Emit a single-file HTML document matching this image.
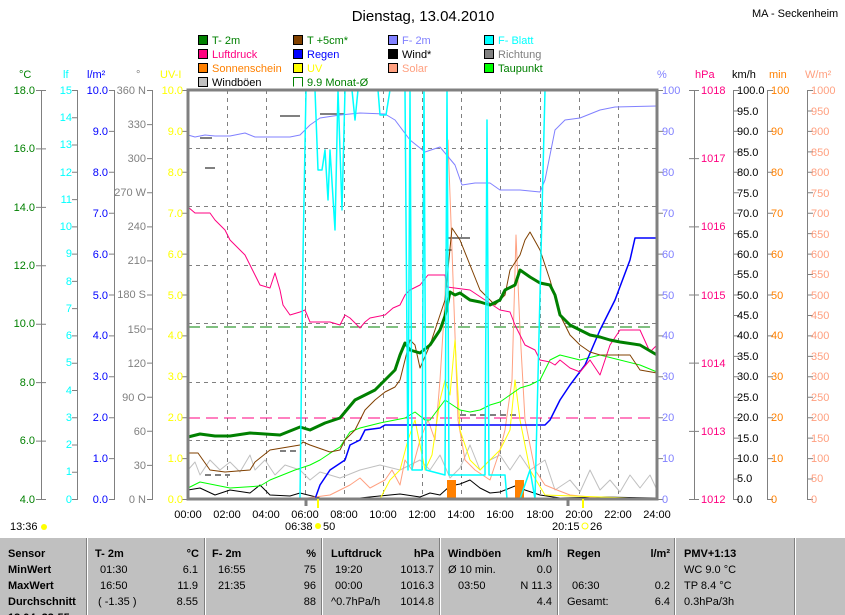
<!DOCTYPE html>
<html><head><meta charset="utf-8"><style>
html,body{margin:0;padding:0;background:#fff;width:845px;height:615px;overflow:hidden}
svg{display:block;font-family:"Liberation Sans",sans-serif}
</style></head><body>
<svg width="845" height="615" viewBox="0 0 845 615" xmlns="http://www.w3.org/2000/svg">
<rect width="845" height="615" fill="#fff"/>
<text x="423" y="21" font-size="15" text-anchor="middle">Dienstag, 13.04.2010</text>
<text x="752" y="17" font-size="11">MA - Seckenheim</text>
<!-- legend -->
<g font-size="11">
<rect x="198.5" y="35.5" width="9" height="9" fill="#008000" stroke="#000"/><text x="212" y="44" fill="#008000">T- 2m</text>
<rect x="198.5" y="49.5" width="9" height="9" fill="#ff0080" stroke="#000"/><text x="212" y="58" fill="#ff0080">Luftdruck</text>
<rect x="198.5" y="63.5" width="9" height="9" fill="#ff8000" stroke="#000"/><text x="212" y="72" fill="#ff8000">Sonnenschein</text>
<rect x="198.5" y="77.5" width="9" height="9" fill="#c0c0c0" stroke="#000"/><text x="212" y="86">Windböen</text>
<rect x="293.5" y="35.5" width="9" height="9" fill="#804000" stroke="#000"/><text x="307" y="44" fill="#008000">T +5cm*</text>
<rect x="293.5" y="49.5" width="9" height="9" fill="#0000ff" stroke="#000"/><text x="307" y="58" fill="#0000ff">Regen</text>
<rect x="293.5" y="63.5" width="9" height="9" fill="#ffff00" stroke="#000"/><text x="307" y="72" fill="#ffff00">UV</text>
<path d="M302.5 86.5 V77.5 H293.5 V86.5" fill="none" stroke="#008000"/><text x="307" y="86" fill="#008000">9.9 Monat-Ø</text>
<rect x="388.5" y="35.5" width="9" height="9" fill="#8080ff" stroke="#000"/><text x="402" y="44" fill="#8080ff">F- 2m</text>
<rect x="388.5" y="49.5" width="9" height="9" fill="#000" stroke="#000"/><text x="402" y="58">Wind*</text>
<rect x="388.5" y="63.5" width="9" height="9" fill="#ffa080" stroke="#000"/><text x="402" y="72" fill="#ffa080">Solar</text>
<rect x="484.5" y="35.5" width="9" height="9" fill="#00ffff" stroke="#000"/><text x="498" y="44" fill="#00ffff">F- Blatt</text>
<rect x="484.5" y="49.5" width="9" height="9" fill="#808080" stroke="#000"/><text x="498" y="58" fill="#808080">Richtung</text>
<rect x="484.5" y="63.5" width="9" height="9" fill="#00ff00" stroke="#000"/><text x="498" y="72" fill="#008000">Taupunkt</text>
</g>
<!-- unit labels -->
<g font-size="11">
<text x="19" y="78" fill="#008000">°C</text><text x="63" y="78" fill="#00ffff">lf</text>
<text x="87" y="78" fill="#0000ff">l/m²</text><text x="136" y="78" fill="#808080">°</text>
<text x="160" y="78" fill="#ffff00">UV-I</text>
<text x="657" y="78" fill="#8080ff">%</text><text x="695" y="78" fill="#ff0080">hPa</text>
<text x="732" y="78">km/h</text><text x="769" y="78" fill="#ff8000">min</text>
<text x="805" y="78" fill="#ffa080">W/m²</text>
</g>
<!-- axes -->
<g stroke="#808080" fill="none">
<path d="M41.5 90V499M77.5 90V499M114.5 90V499M152.5 90V499M694.5 90V499M733.5 90V499M767.5 90V499M807.5 90V499"/>
<path d="M41 90V501" stroke-width="10" stroke-dasharray="1,57.43"/>
<path d="M75 90V501" stroke-width="6" stroke-dasharray="1,26.27"/>
<path d="M112 90V501" stroke-width="6" stroke-dasharray="1,39.9"/>
<path d="M150 90V501" stroke-width="6" stroke-dasharray="1,33.08"/>
<path d="M185 90V501" stroke-width="6" stroke-dasharray="1,39.9"/>
<path d="M660 90V501" stroke-width="6" stroke-dasharray="1,39.9"/>
<path d="M694 90V501" stroke-width="10" stroke-dasharray="1,67.17"/>
<path d="M736 90V501" stroke-width="6" stroke-dasharray="1,19.45"/>
<path d="M770 90V501" stroke-width="6" stroke-dasharray="1,39.9"/>
<path d="M810 90V501" stroke-width="6" stroke-dasharray="1,19.45"/>
</g>
<g font-size="11" text-anchor="end">
<g fill="#008000"><text x="35" y="94">18.0</text><text x="35" y="152">16.0</text><text x="35" y="211">14.0</text><text x="35" y="269">12.0</text><text x="35" y="327">10.0</text><text x="35" y="386">8.0</text><text x="35" y="444">6.0</text><text x="35" y="503">4.0</text></g>
<g fill="#00ffff"><text x="72" y="94">15</text><text x="72" y="121">14</text><text x="72" y="148">13</text><text x="72" y="176">12</text><text x="72" y="203">11</text><text x="72" y="230">10</text><text x="72" y="257">9</text><text x="72" y="285">8</text><text x="72" y="312">7</text><text x="72" y="339">6</text><text x="72" y="366">5</text><text x="72" y="394">4</text><text x="72" y="421">3</text><text x="72" y="448">2</text><text x="72" y="475">1</text><text x="72" y="503">0</text></g>
<g fill="#0000ff"><text x="108" y="94">10.0</text><text x="108" y="135">9.0</text><text x="108" y="176">8.0</text><text x="108" y="217">7.0</text><text x="108" y="258">6.0</text><text x="108" y="299">5.0</text><text x="108" y="339">4.0</text><text x="108" y="380">3.0</text><text x="108" y="421">2.0</text><text x="108" y="462">1.0</text><text x="108" y="503">0.0</text></g>
<g fill="#808080"><text x="146" y="94">360 N</text><text x="146" y="128">330</text><text x="146" y="162">300</text><text x="146" y="196">270 W</text><text x="146" y="230">240</text><text x="146" y="264">210</text><text x="146" y="298">180 S</text><text x="146" y="333">150</text><text x="146" y="367">120</text><text x="146" y="401">90 O</text><text x="146" y="435">60</text><text x="146" y="469">30</text><text x="146" y="503">0 N</text></g>
<g fill="#ffff00"><text x="183" y="94">10.0</text><text x="183" y="135">9.0</text><text x="183" y="176">8.0</text><text x="183" y="217">7.0</text><text x="183" y="258">6.0</text><text x="183" y="299">5.0</text><text x="183" y="339">4.0</text><text x="183" y="380">3.0</text><text x="183" y="421">2.0</text><text x="183" y="462">1.0</text><text x="183" y="503">0.0</text></g>
</g>
<g font-size="11">
<g fill="#8080ff"><text x="662" y="94">100</text><text x="662" y="135">90</text><text x="662" y="176">80</text><text x="662" y="217">70</text><text x="662" y="258">60</text><text x="662" y="299">50</text><text x="662" y="339">40</text><text x="662" y="380">30</text><text x="662" y="421">20</text><text x="662" y="462">10</text><text x="662" y="503">0</text></g>
<g fill="#ff0080"><text x="701" y="94">1018</text><text x="701" y="162">1017</text><text x="701" y="230">1016</text><text x="701" y="299">1015</text><text x="701" y="367">1014</text><text x="701" y="435">1013</text><text x="701" y="503">1012</text></g>
<g><text x="737" y="94">100.0</text><text x="737" y="115">95.0</text><text x="737" y="135">90.0</text><text x="737" y="156">85.0</text><text x="737" y="176">80.0</text><text x="737" y="197">75.0</text><text x="737" y="217">70.0</text><text x="737" y="238">65.0</text><text x="737" y="258">60.0</text><text x="737" y="278">55.0</text><text x="737" y="299">50.0</text><text x="737" y="319">45.0</text><text x="737" y="339">40.0</text><text x="737" y="360">35.0</text><text x="737" y="380">30.0</text><text x="737" y="401">25.0</text><text x="737" y="421">20.0</text><text x="737" y="442">15.0</text><text x="737" y="462">10.0</text><text x="737" y="482">5.0</text><text x="737" y="503">0.0</text></g>
<g fill="#ff8000"><text x="771" y="94">100</text><text x="771" y="135">90</text><text x="771" y="176">80</text><text x="771" y="217">70</text><text x="771" y="258">60</text><text x="771" y="299">50</text><text x="771" y="339">40</text><text x="771" y="380">30</text><text x="771" y="421">20</text><text x="771" y="462">10</text><text x="771" y="503">0</text></g>
<g fill="#ffa080"><text x="811" y="94">1000</text><text x="811" y="115">950</text><text x="811" y="135">900</text><text x="811" y="156">850</text><text x="811" y="176">800</text><text x="811" y="197">750</text><text x="811" y="217">700</text><text x="811" y="238">650</text><text x="811" y="258">600</text><text x="811" y="278">550</text><text x="811" y="299">500</text><text x="811" y="319">450</text><text x="811" y="339">400</text><text x="811" y="360">350</text><text x="811" y="380">300</text><text x="811" y="401">250</text><text x="811" y="421">200</text><text x="811" y="442">150</text><text x="811" y="462">100</text><text x="811" y="482">50</text><text x="811" y="503">0</text></g>
</g>
<!-- grid -->
<g stroke="#808080" stroke-dasharray="4,4" fill="none">
<path d="M227.5 90V499M266.5 90V499M305.5 90V499M344.5 90V499M383.5 90V499M422.5 90V499M461.5 90V499M500.5 90V499M540.5 90V499M579.5 90V499M618.5 90V499"/>
<path d="M188 148.5H657M188 206.5H657M188 265.5H657M188 323.5H657M188 382.5H657M188 440.5H657"/>
</g>
<!-- series -->
<g fill="none" stroke-linejoin="round">
<path d="M188 327H657" stroke="#008000" stroke-dasharray="12,6"/>
<path d="M188 418H657" stroke="#ff0080" stroke-dasharray="12,6"/>
<path d="M460 415H520M205 475H230M280 451H300" stroke="#808080" stroke-width="2" stroke-dasharray="6,4"/>
<path d="M280 116H300M320 114H345M205 168H215M445 250H452M447 238H470M200 138H212" stroke="#808080" stroke-width="2"/>
<path d="M188 499H657" stroke="#ff8000" stroke-width="2"/>
<path d="M188 490L200 488L215 495L230 490L250 493L260 485L270 495L290 496L300 493L320 498L360 498L400 494L420 497L430 493L440 495L450 486L460 484L470 480L480 488L490 493L500 492L515 486L525 490L540 495L560 498L600 497L657 498" stroke="#000"/>
<path d="M188 470L195 462L200 475L210 460L220 470L230 462L240 472L250 455L255 470L265 460L275 475L285 465L300 470L310 480L320 472L340 478L360 470L380 465L400 470L420 460L430 470L440 455L450 478L460 468L470 445L480 470L490 460L500 455L510 470L520 455L530 470L545 460L555 490L570 480L580 492L590 470L600 490L610 480L620 492L630 475L640 488L650 475L657 490" stroke="#c0c0c0"/>
<path d="M300 499L330 495L350 485L360 478L370 488L385 480L392 470L400 485L405 460L412 470L420 440L428 420L435 440L440 380L445 300L448 140L452 250L458 420L465 460L475 470L490 480L500 450L505 430L512 380L516 235L520 330L525 420L535 470L545 485L557 490L570 495L600 498L657 498" stroke="#ffa080"/>
<path d="M380 499L390 480L400 470L408 440L415 420L425 470L432 455L440 400L445 380L450 395L455 340L460 430L470 460L480 470L500 450L510 430L515 380L520 420L530 470L545 495L657 499" stroke="#ffff00"/>
<rect x="447" y="480" width="9" height="19" fill="#ff8000"/><rect x="515" y="480" width="9" height="19" fill="#ff8000"/>
<path d="M188 488L200 482L215 485L230 488L260 486L270 480L295 470L310 465L320 460L335 450L340 447L350 432L360 428L380 423L395 420L405 418L415 412L425 420L430 420L445 400L460 410L470 412L480 410L490 405L500 402L510 395L520 388L530 385L540 380L550 360L560 355L580 360L600 355L640 365L657 372" stroke="#00ff00"/>
<path d="M188 499H315L320 485L330 470L345 460L350 445L360 440L365 430L380 428L385 425H545L550 420L560 400L570 385L585 365L600 330L615 300L630 260L635 238H657" stroke="#0000ff" stroke-width="1.5"/>
<path d="M188 135L195 137L205 135L215 136L230 136L245 133L255 137L270 137L290 137L300 135L310 125L320 118L340 115L360 113L385 114L395 120L410 140L425 152L440 147L455 165L462 185L475 183L490 183L500 190L520 190L540 192L545 180L555 130L565 120L580 118L600 110L615 107L657 106" stroke="#8080ff"/>
<path d="M188 207L195 213L210 213L215 220L225 230L230 240L235 245L245 255L250 265L255 275L260 285L270 288L275 273L280 290L283 305L290 315L300 312L305 310L310 322L330 322L340 325L345 315L350 318L355 323L360 328L365 322L370 318L385 315L393 308L400 305L405 295L410 290L420 285L428 275L445 275L447 287L470 290L500 310L510 312L515 325L525 345L535 350L540 360L550 362L555 365L560 360L570 368L580 372L590 360L600 375L610 345L620 330L640 330L650 352L657 345" stroke="#ff0080"/>
<path d="M188 453L198 453L210 470L225 472L250 470L255 462L270 450L300 445L303 442L310 445L330 452L340 450L345 440L355 430L365 410L375 400L385 392L395 387L400 380L405 360L410 340L415 345L420 368L430 345L445 300L452 228L460 240L470 265L480 290L490 300L495 305L505 295L510 270L520 255L525 240L530 232L540 250L550 280L560 315L570 335L580 345L590 352L600 355L630 355L640 370L657 373" stroke="#804000"/>
<path d="M188 437L200 434L215 436L230 436L250 433L280 435L300 427L310 430L325 423L340 418L355 400L365 395L375 390L385 380L395 370L400 355L405 343L410 350L420 353L430 345L440 330L445 316L450 292L455 295L460 293L470 300L480 302L490 305L500 300L505 290L515 285L520 270L530 277L540 283L550 285L555 295L560 315L570 325L580 330L590 335L600 337L610 340L620 342L640 345L657 355" stroke="#008000" stroke-width="3"/>
<path d="M188 499H300L303 255L306 90H315L318 170H322L325 150L328 200L330 150L335 230L338 90L340 150L342 210L345 90H352L355 120L358 90H378L380 115H386L390 90H405L408 470L410 90L412 470H422L424 90L426 470L445 475L447 90L449 475H485L487 120L489 475H505L507 499H520L530 470L535 499L545 90H657" stroke="#00ffff" stroke-width="1.5"/>
</g>
<rect x="188" y="90" width="469" height="409" fill="none" stroke="#808080" stroke-width="3"/>
<path d="M306 499V506M568 499V506" stroke="#808080" stroke-width="3"/>
<path d="M318 499V508M583 499V508" stroke="#ffff00" stroke-width="2"/>
<!-- time labels -->
<g font-size="11" text-anchor="middle">
<text x="188" y="518">00:00</text><text x="227" y="518">02:00</text><text x="266" y="518">04:00</text><text x="305" y="518">06:00</text><text x="344" y="518">08:00</text><text x="383" y="518">10:00</text><text x="422" y="518">12:00</text><text x="461" y="518">14:00</text><text x="500" y="518">16:00</text><text x="540" y="518">18:00</text><text x="579" y="518">20:00</text><text x="618" y="518">22:00</text><text x="657" y="518">24:00</text>
</g>
<g font-size="11">
<text x="10" y="530">13:36</text><circle cx="44" cy="527" r="3" fill="#ffff00"/>
<text x="285" y="530">06:38</text><circle cx="318" cy="526" r="3" fill="#ffff00"/><text x="323" y="530">50</text>
<text x="552" y="530">20:15</text><circle cx="585" cy="526" r="3" fill="none" stroke="#ffff00"/><text x="590" y="530">26</text>
</g>
<!-- table -->
<rect x="0" y="538" width="845" height="77" fill="#c0c0c0"/>
<path d="M87.5 538V615M205.5 538V615M322.5 538V615M440.5 538V615M558.5 538V615M675.5 538V615M795.5 538V615" stroke="#fff"/>
<path d="M86.5 538V615M204.5 538V615M321.5 538V615M439.5 538V615M557.5 538V615M674.5 538V615M794.5 538V615" stroke="#808080"/>
<g font-size="11">
<g font-weight="bold"><text x="8" y="557">Sensor</text><text x="8" y="573">MinWert</text><text x="8" y="589">MaxWert</text><text x="8" y="605">Durchschnitt</text><text x="8" y="621">13.04. 23:55</text>
<text x="95" y="557">T- 2m</text><text x="212" y="557">F- 2m</text><text x="331" y="557">Luftdruck</text><text x="448" y="557">Windböen</text><text x="567" y="557">Regen</text><text x="684" y="557">PMV+1:13</text></g>
<g font-weight="bold" text-anchor="end"><text x="199" y="557">°C</text><text x="316" y="557">%</text><text x="434" y="557">hPa</text><text x="552" y="557">km/h</text><text x="670" y="557">l/m²</text></g>
<text x="100" y="573">01:30</text><text x="100" y="589">16:50</text><text x="98" y="605">( -1.35 )</text>
<text x="218" y="573">16:55</text><text x="218" y="589">21:35</text>
<text x="335" y="573">19:20</text><text x="335" y="589">00:00</text><text x="331" y="605">^0.7hPa/h</text>
<text x="448" y="573">Ø 10 min.</text><text x="458" y="589">03:50</text>
<text x="572" y="589">06:30</text><text x="567" y="605">Gesamt:</text>
<text x="684" y="573">WC 9.0 °C</text><text x="684" y="589">TP 8.4 °C</text><text x="684" y="605">0.3hPa/3h</text>
<g text-anchor="end"><text x="198" y="573">6.1</text><text x="198" y="589">11.9</text><text x="198" y="605">8.55</text>
<text x="316" y="573">75</text><text x="316" y="589">96</text><text x="316" y="605">88</text>
<text x="434" y="573">1013.7</text><text x="434" y="589">1016.3</text><text x="434" y="605">1014.8</text>
<text x="552" y="573">0.0</text><text x="552" y="589">N 11.3</text><text x="552" y="605">4.4</text>
<text x="670" y="589">0.2</text><text x="670" y="605">6.4</text></g>
</g>
</svg>
</body></html>
